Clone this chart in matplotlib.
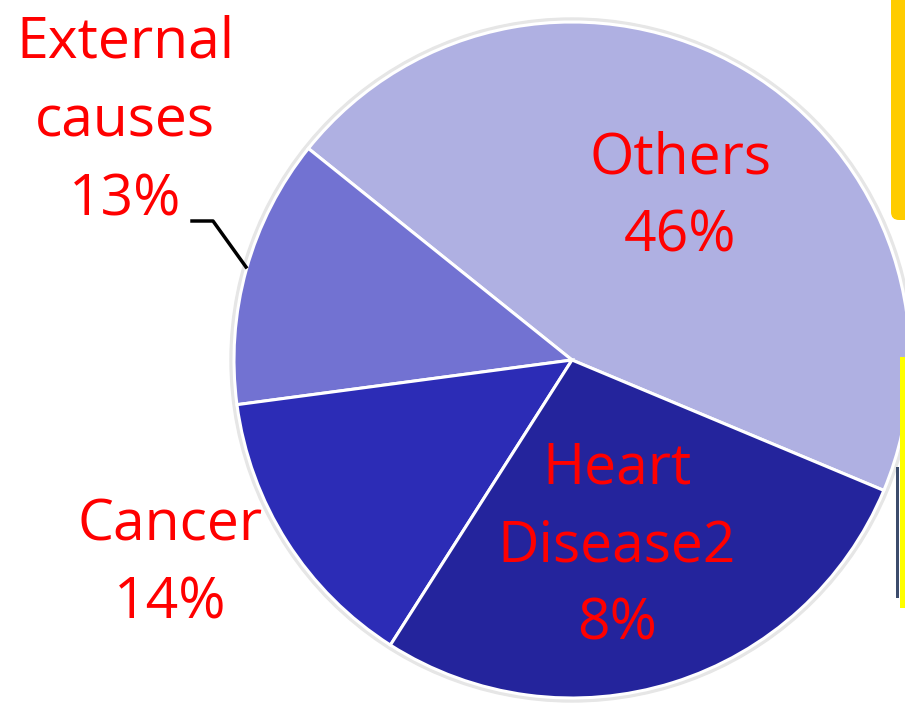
import matplotlib.pyplot as plt
from matplotlib.patches import Rectangle, FancyBboxPatch

categories = ["Others", "External causes", "Cancer", "Heart Disease"]
values = [46, 13, 14, 28]
label_texts = ["Others\n46%", "External\ncauses\n13%", "Cancer\n14%", "Heart\nDisease2\n8%"]
colors = ["#AFB0E2", "#7272D2", "#2C2CB6", "#24249C"]

fig = plt.figure(figsize=(9.05, 7.05), dpi=100)
ax = fig.add_axes([0, 0, 1, 1])

# faint shadow ring behind the pie
ax.add_patch(plt.Circle((572, 345), 342, color="#E6E6E6", zorder=0))

ax.pie(values, colors=colors, startangle=-22.7, counterclock=True,
       center=(572, 345), radius=338,
       wedgeprops=dict(edgecolor="white", linewidth=2.2), frame=True)
ax.set_xlim(0, 905)
ax.set_ylim(0, 705)
ax.set_aspect("equal")
ax.axis("off")

font = dict(family="Open Sans", fontsize=41, color="#FF0000",
            ha="center", va="center", linespacing=1.5)
label_pos = [(680, 507), (125, 583), (170, 140), (617, 158)]
for txt, (x, y) in zip(label_texts, label_pos):
    ax.text(x, y, txt, **font)

# leader line for external causes
ax.plot([192, 213, 246], [705 - 221, 705 - 221, 705 - 267], color="black", lw=2.5)

# cropped slide decorations on the right edge
ax.add_patch(FancyBboxPatch((891, 485), 30, 240, boxstyle="round,pad=0,rounding_size=8",
                            facecolor="#FFCC00", edgecolor="none"))
ax.add_patch(Rectangle((900, 705 - 608), 10, 251, facecolor="#FFFF00", edgecolor="none"))
ax.add_patch(Rectangle((896, 705 - 598), 3, 131, facecolor="#3C4C6C", edgecolor="none"))

fig.savefig("out.png", dpi=100)
